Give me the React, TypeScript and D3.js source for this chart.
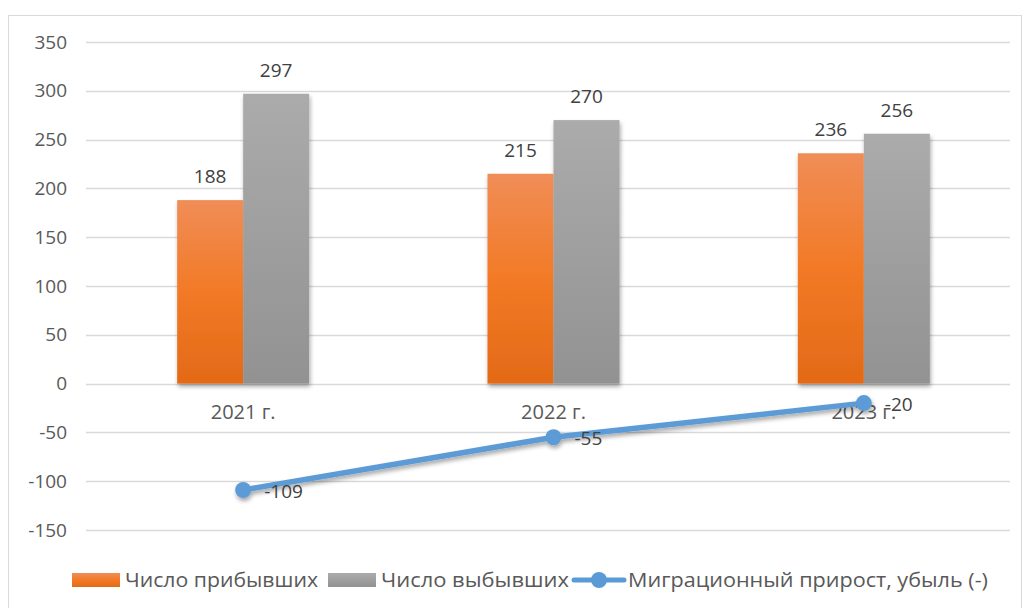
import React, { useEffect, useRef } from 'react';
import * as d3 from 'd3';

const categories = ['2021 г.', '2022 г.', '2023 г.'];
const arrived = [188, 215, 236];
const departed = [297, 270, 256];
const migration = [-109, -55, -20];
const yTicks = [350, 300, 250, 200, 150, 100, 50, 0, -50, -100, -150];
const seriesNames = ['Число прибывших', 'Число выбывших', 'Миграционный прирост, убыль (-)'];

const FONT = "'Open Sans', 'Noto Sans', sans-serif";

const App: React.FC = () => {
  const svgRef = useRef<SVGSVGElement>(null);

  useEffect(() => {
    if (!svgRef.current) return;
    const svg = d3.select(svgRef.current);
    svg.selectAll('*').remove();

    const x = d3
      .scaleBand<string>()
      .domain(categories)
      .range([88, 1019]);

    const y = d3
      .scaleLinear()
      .domain([-150, 350])
      .range([530, 42]);

    const defs = svg.append('defs');
    const og = defs.append('linearGradient').attr('id', 'gOrange').attr('x1', 0).attr('x2', 0).attr('y1', 0).attr('y2', 1);
    og.append('stop').attr('offset', '0%').attr('stop-color', '#f08d57');
    og.append('stop').attr('offset', '50%').attr('stop-color', '#f27a26');
    og.append('stop').attr('offset', '100%').attr('stop-color', '#e36a17');
    const gg = defs.append('linearGradient').attr('id', 'gGray').attr('x1', 0).attr('x2', 0).attr('y1', 0).attr('y2', 1);
    gg.append('stop').attr('offset', '0%').attr('stop-color', '#ababab');
    gg.append('stop').attr('offset', '100%').attr('stop-color', '#929292');
    const sh = defs.append('filter').attr('id', 'shadow').attr('x', '-20%').attr('y', '-20%').attr('width', '140%').attr('height', '140%');
    sh.append('feDropShadow').attr('dx', 1).attr('dy', 3).attr('stdDeviation', 2).attr('flood-color', '#000').attr('flood-opacity', 0.35);

    // frame
    svg.append('rect')
      .attr('x', 8.5).attr('y', 15.5).attr('width', 1013).attr('height', 600)
      .attr('fill', '#fff').attr('stroke', '#d9d9d9');

    // gridlines
    svg.append('g')
      .selectAll('line')
      .data(yTicks)
      .join('line')
      .attr('x1', 86)
      .attr('x2', 1010)
      .attr('y1', (d) => Math.round(y(d)) + 0.5)
      .attr('y2', (d) => Math.round(y(d)) + 0.5)
      .attr('stroke', '#d9d9d9')
      .attr('stroke-width', 1.5);

    // y labels
    svg.append('g')
      .selectAll('text')
      .data(yTicks)
      .join('text')
      .attr('x', 67)
      .attr('y', (d) => y(d))
      .attr('dy', '0.35em')
      .attr('text-anchor', 'end')
      .attr('fill', '#595959')
      .attr('font-size', 19)
      .attr('font-family', FONT)
      .text((d) => d);

    const barW = 66;

    // bars
    const bars = svg.append('g').attr('filter', 'url(#shadow)');
    categories.forEach((c, i) => {
      const cx = x(c)! + x.bandwidth() / 2;
      bars.append('rect')
        .attr('x', cx - barW)
        .attr('y', y(arrived[i]))
        .attr('width', barW)
        .attr('height', y(0) - y(arrived[i]))
        .attr('fill', 'url(#gOrange)');
      bars.append('rect')
        .attr('x', cx)
        .attr('y', y(departed[i]))
        .attr('width', barW)
        .attr('height', y(0) - y(departed[i]))
        .attr('fill', 'url(#gGray)');
    });

    // bar labels
    const labels = svg.append('g')
      .attr('font-family', FONT)
      .attr('font-size', 19)
      .attr('fill', '#404040')
      .attr('text-anchor', 'middle');
    categories.forEach((c, i) => {
      const cx = x(c)! + x.bandwidth() / 2;
      labels.append('text').attr('x', cx - barW / 2).attr('y', y(arrived[i]) - 17).text(arrived[i]);
      labels.append('text').attr('x', cx + barW / 2).attr('y', y(departed[i]) - 17).text(departed[i]);
    });

    // category labels
    svg.append('g')
      .selectAll('text')
      .data(categories)
      .join('text')
      .attr('x', (d) => x(d)! + x.bandwidth() / 2)
      .attr('y', y(0) + 35)
      .attr('text-anchor', 'middle')
      .attr('fill', '#595959')
      .attr('font-size', 20)
      .attr('font-family', FONT)
      .text((d) => d);

    // line
    const pts = categories.map((c, i) => [x(c)! + x.bandwidth() / 2, y(migration[i])] as [number, number]);
    const lineG = svg.append('g').attr('filter', 'url(#shadow)');
    lineG.append('path')
      .attr('d', d3.line()(pts))
      .attr('fill', 'none')
      .attr('stroke', '#5b9bd5')
      .attr('stroke-width', 5.5)
      .attr('stroke-linecap', 'round');
    lineG.selectAll('circle')
      .data(pts)
      .join('circle')
      .attr('cx', (d) => d[0])
      .attr('cy', (d) => d[1])
      .attr('r', 8)
      .attr('fill', '#5b9bd5');

    svg.append('g')
      .selectAll('text')
      .data(pts)
      .join('text')
      .attr('x', (d) => d[0] + 21)
      .attr('y', (d) => d[1] + 1)
      .attr('dy', '0.35em')
      .attr('fill', '#404040')
      .attr('font-size', 19)
      .attr('font-family', FONT)
      .text((_, i) => migration[i]);

    // legend
    const lg = svg.append('g')
      .attr('font-family', FONT)
      .attr('font-size', 20)
      .attr('fill', '#595959');
    const ly = 580;
    lg.append('rect').attr('x', 72).attr('y', ly - 7).attr('width', 48).attr('height', 14).attr('fill', 'url(#gOrange)');
    lg.append('text').attr('x', 125).attr('y', ly).attr('dy', '0.35em')
      .attr('textLength', 193).attr('lengthAdjust', 'spacingAndGlyphs').text(seriesNames[0]);
    lg.append('rect').attr('x', 328).attr('y', ly - 7).attr('width', 48).attr('height', 14).attr('fill', 'url(#gGray)');
    lg.append('text').attr('x', 381).attr('y', ly).attr('dy', '0.35em')
      .attr('textLength', 188).attr('lengthAdjust', 'spacingAndGlyphs').text(seriesNames[1]);
    lg.append('line').attr('x1', 574).attr('x2', 624).attr('y1', ly).attr('y2', ly)
      .attr('stroke', '#5b9bd5').attr('stroke-width', 5).attr('stroke-linecap', 'round');
    lg.append('circle').attr('cx', 599).attr('cy', ly).attr('r', 8).attr('fill', '#5b9bd5');
    lg.append('text').attr('x', 628).attr('y', ly).attr('dy', '0.35em')
      .attr('textLength', 360).attr('lengthAdjust', 'spacingAndGlyphs').text(seriesNames[2]);
  }, []);

  return (
    <svg
      ref={svgRef}
      width={1030}
      height={608}
      style={{ position: 'absolute', left: 0, top: 0, display: 'block' }}
    />
  );
};

export default App;
